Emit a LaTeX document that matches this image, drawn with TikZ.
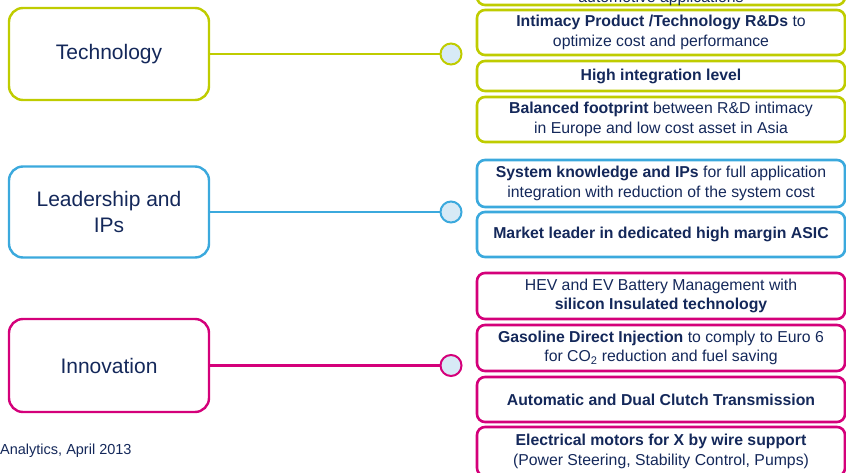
\documentclass[tikz,border=0pt]{standalone}
\usepackage{fontspec}
\setmainfont{Liberation Sans}
\definecolor{tgreen}{HTML}{BFCC00}
\definecolor{tblue}{HTML}{3BA9DD}
\definecolor{tmag}{HTML}{D4007A}
\definecolor{tnavy}{HTML}{14285A}
\definecolor{cfill}{HTML}{D7EAF6}
\begin{document}
\begin{tikzpicture}[x=1pt,y=-1pt,
  catbox/.style={draw, line width=2.4pt, rounded corners=14pt, minimum width=200pt,
    text=tnavy, font=\fontsize{21}{25.5}\selectfont, align=center, fill=white},
  itembox/.style={draw, line width=2.6pt, rounded corners=8pt, minimum width=368pt,
    text=tnavy, font=\fontsize{15.8}{19.5}\selectfont, align=center, inner sep=0pt},
  dot/.style={circle, draw, line width=2pt, fill=cfill, minimum size=21pt, inner sep=0pt},
  link/.style={line width=2.3pt},
]
\useasboundingbox (0,0) rectangle (846,473);

% left category boxes
\node[catbox, draw=tgreen, minimum height=92pt] (tech) at (109,54) {Technology};
\node[catbox, draw=tblue, minimum height=91pt] (lead) at (109,212) {Leadership and\\IPs};
\node[catbox, draw=tmag, minimum height=93pt] (innov) at (109,365.5) {Innovation};

% circles
\node[dot, draw=tgreen] (c1) at (451,54) {};
\node[dot, draw=tblue] (c2) at (451,212) {};
\node[dot, draw=tmag] (c3) at (451,365.5) {};

% connectors
\draw[link, tgreen, line width=2pt] (tech) -- (c1);
\draw[link, tblue] (lead) -- (c2);
\draw[link, tmag, line width=2.8pt] (innov) -- (c3);

% green items
\node[itembox, draw=tgreen, minimum height=45pt] (g0) at (661,-17.5) {};
\node[text=tnavy, font=\fontsize{15.8}{19.5}\selectfont, inner sep=0pt] (g0t) at (661,-1.5) {automotive applications};
\node[itembox, draw=tgreen, minimum height=45pt] (g1) at (661,32.5)
  {\textbf{Intimacy Product /Technology R\&Ds} to\\optimize cost and performance};
\node[itembox, draw=tgreen, minimum height=30pt] (g2) at (661,76)
  {\textbf{High integration level}};
\node[itembox, draw=tgreen, minimum height=45pt] (g3) at (661,119.5)
  {\textbf{Balanced footprint} between R\&D intimacy\\in Europe and low cost asset in Asia};

% blue items
\node[itembox, draw=tblue, minimum height=47pt] (b1) at (661,183.5)
  {\textbf{System knowledge and IPs} for full application\\integration with reduction of the system cost};
\node[itembox, draw=tblue, minimum height=45pt] (b2) at (661,234.5)
  {\textbf{Market leader in dedicated high margin ASIC}};

% magenta items
\node[itembox, draw=tmag, minimum height=46pt] (m1) at (661,296)
  {HEV and EV Battery Management with\\\textbf{silicon Insulated technology}};
\node[itembox, draw=tmag, minimum height=46pt] (m2) at (661,348)
  {\textbf{Gasoline Direct Injection} to comply to Euro 6\\for CO\textsubscript{2} reduction and fuel saving};
\node[itembox, draw=tmag, minimum height=45pt] (m3) at (661,399.5)
  {\textbf{Automatic and Dual Clutch Transmission}};
\node[itembox, draw=tmag, minimum height=49pt] (m4) at (661,451.5)
  {\textbf{Electrical motors for X by wire support}\\(Power Steering, Stability Control, Pumps)};

% source
\node[anchor=west, text=tnavy, font=\fontsize{14.5}{17}\selectfont, inner sep=0pt] (src) at (0,451) {Analytics, April 2013};
\end{tikzpicture}
\end{document}
